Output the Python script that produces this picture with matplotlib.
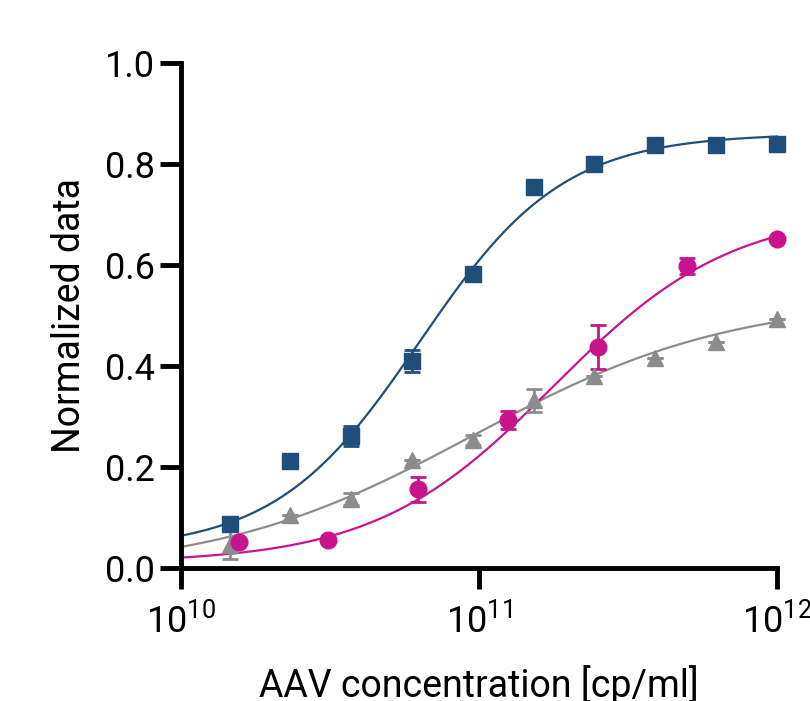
import numpy as np
import matplotlib
matplotlib.use("Agg")
import matplotlib.pyplot as plt
from matplotlib.ticker import FixedLocator, FuncFormatter, NullLocator

plt.rcParams['font.family'] = ['Roboto', 'DejaVu Sans']
plt.rcParams['mathtext.default'] = 'regular'

# Dilution series (cp/ml)
conc_blue = [1.46e10, 2.33e10, 3.73e10, 5.96e10, 9.54e10, 1.53e11, 2.44e11, 3.9e11, 6.25e11, 1.0e12]
resp_blue = [0.087, 0.212, 0.261, 0.410, 0.582, 0.754, 0.800, 0.838, 0.838, 0.840]
err_blue = [0.0, 0.0, 0.020, 0.022, 0.0, 0.0, 0.0, 0.0, 0.0, 0.0]

conc_pink = [1.5625e10, 3.125e10, 6.25e10, 1.25e11, 2.5e11, 5.0e11, 1.0e12]
resp_pink = [0.051, 0.055, 0.156, 0.293, 0.438, 0.598, 0.651]
err_pink = [0.0, 0.0, 0.025, 0.018, 0.043, 0.016, 0.0]

conc_gray = [1.46e10, 2.33e10, 3.73e10, 5.96e10, 9.54e10, 1.53e11, 2.44e11, 3.9e11, 6.25e11, 1.0e12]
resp_gray = [0.046, 0.105, 0.137, 0.214, 0.253, 0.332, 0.380, 0.416, 0.448, 0.493]
err_gray = [0.028, 0.0, 0.012, 0.0, 0.010, 0.023, 0.0, 0.0, 0.0, 0.0]

# Four-parameter logistic fits: bottom, top, log10(EC50), Hill slope
fit_blue = [0.035, 0.86, 10.80, 1.8]
fit_pink = [0.01, 0.71, 11.25, 1.45]
fit_gray = [-0.01, 0.535, 10.98, 1.0]

x_ticks = [1e10, 1e11, 1e12]
y_ticks = [0.0, 0.2, 0.4, 0.6, 0.8, 1.0]

c_blue = '#1f4e7a'
c_pink = '#c8148c'
c_gray = '#8c8c8c'


def logistic(x, p):
    bottom, top, logec50, hill = p
    return bottom + (top - bottom) / (1.0 + 10 ** ((logec50 - np.log10(x)) * hill))


fig = plt.figure(figsize=(8.1, 7.01), dpi=100)
ax = fig.add_axes([181 / 810, 133 / 701, (777 - 181) / 810, (568 - 63) / 701])

xs = np.logspace(10, 12, 400)
series = [
    (conc_gray, resp_gray, err_gray, fit_gray, c_gray, '^', 12),
    (conc_pink, resp_pink, err_pink, fit_pink, c_pink, 'o', 12),
    (conc_blue, resp_blue, err_blue, fit_blue, c_blue, 's', 11),
]
for conc, resp, err, fit, col, mk, ms in series:
    ax.plot(xs, logistic(xs, fit), color=col, lw=1.6, zorder=2, clip_on=False)
    ax.errorbar(conc, resp, yerr=err, fmt=mk, color=col, ms=ms, mec=col,
                ecolor=col, elinewidth=2, capsize=6, capthick=2,
                zorder=3, clip_on=False)

ax.set_xscale('log')
ax.set_xlim(1e10, 1e12)
ax.set_ylim(0, 1.0)
ax.xaxis.set_major_locator(FixedLocator(x_ticks))
ax.xaxis.set_minor_locator(NullLocator())
ax.xaxis.set_major_formatter(FuncFormatter(
    lambda v, p: r'$10^{%d}$' % int(round(np.log10(v)))))
ax.yaxis.set_major_locator(FixedLocator(y_ticks))
ax.yaxis.set_major_formatter(FuncFormatter(lambda v, p: f'{v:.1f}'))

for side in ['top', 'right']:
    ax.spines[side].set_visible(False)
for side in ['left', 'bottom']:
    ax.spines[side].set_linewidth(3.5)
    ax.spines[side].set_capstyle('projecting')

ax.tick_params(axis='both', which='major', direction='out', length=15,
               width=3.5, labelsize=26, colors='black')
ax.tick_params(axis='y', pad=4)
ax.tick_params(axis='x', pad=10)

ax.set_ylabel('Normalized data', fontsize=27, labelpad=12)
ax.set_xlabel('AAV concentration [cp/ml]', fontsize=27, labelpad=18)

fig.savefig('out.png', dpi=100)
